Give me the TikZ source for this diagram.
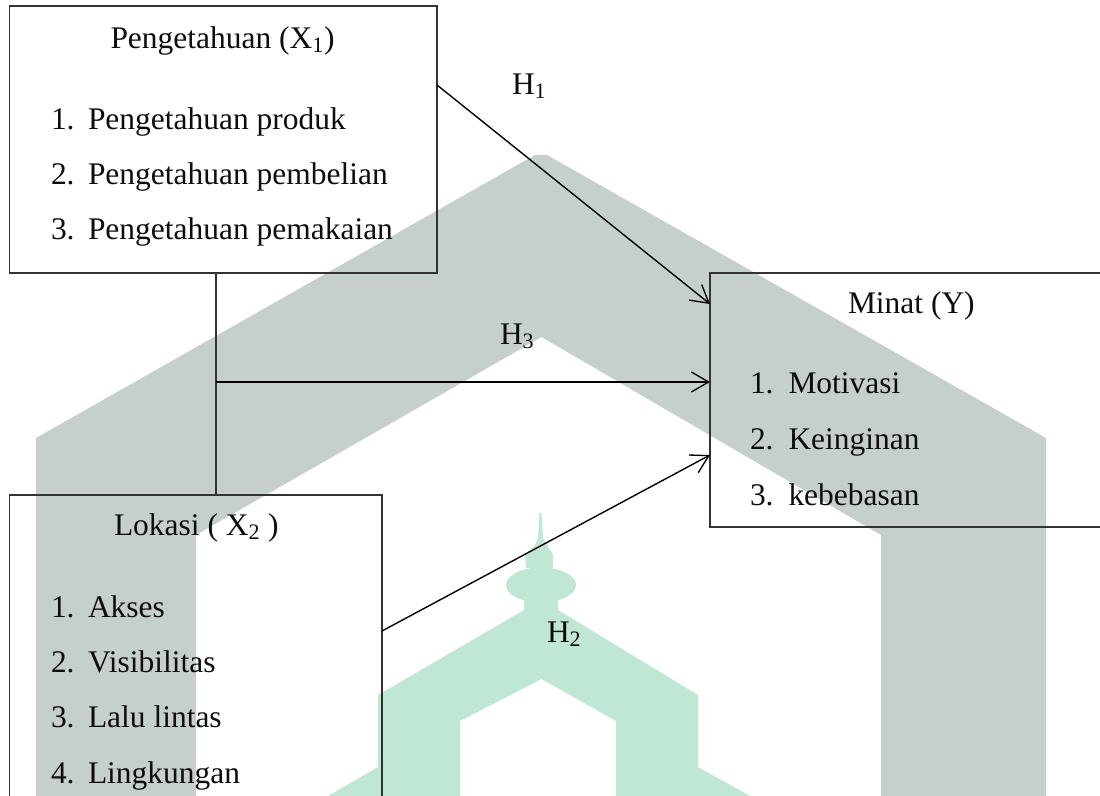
\documentclass[tikz,border=0pt]{standalone}
\usepackage{fontspec}
\setmainfont{Liberation Serif}
\usetikzlibrary{arrows.meta}
\definecolor{wmgrey}{HTML}{C5CFCB}
\definecolor{wmgreen}{HTML}{C0E6D4}
\newcommand{\pxu}{0.75pt}
\tikzset{
  txt/.style={anchor=base west,inner sep=0pt,outer sep=0pt,font=\fontsize{23.6}{28}\selectfont,text=black!95},
  boxed/.style={draw=black!80,line width=0.8pt,rectangle,anchor=north west,inner sep=0pt,outer sep=0pt},
  conn/.style={draw=black,line width=1.05pt},
  arr/.style={conn,-{Straight Barb[length=13pt,width=15pt,line width=1pt]}},
  vline/.style={draw=black!80,line width=0.8pt}
}
\begin{document}
\begin{tikzpicture}[x=0.75pt,y=-0.75pt]
\useasboundingbox (0,0) rectangle (1100,796);
% watermark
\fill[wmgrey] (36,438) -- (535,155) -- (547,155) -- (1046,438) -- (1046,796) -- (881,796) -- (881,535)
  -- (541.5,337) -- (196,535) -- (196,796) -- (36,796) -- cycle;
\fill[wmgreen] (539.5,513) -- (541.5,513) -- (543,538) -- (547,545) -- (553,555) -- (553,568) -- (526,568) -- (525,555) -- (535,545) -- (538,538) -- cycle;
\fill[wmgreen] (541,585) ellipse [x radius=35,y radius=17.5];
\fill[wmgreen] (524,598) -- (558,598) -- (558,610) -- (698,695) -- (698,767) -- (750,796) -- (616,796) -- (616,721)
  -- (541.5,679) -- (460,721) -- (460,796) -- (328,796) -- (378,767) -- (378,695) -- (524,610) -- cycle;
% boxes
\node[boxed,minimum width=427.5*\pxu,minimum height=267*\pxu] (pengetahuan) at (9.5,6) {};
\node[boxed,minimum width=372.5*\pxu,minimum height=320*\pxu] (lokasi) at (9.5,495) {};
\node[boxed,minimum width=410*\pxu,minimum height=254*\pxu] (minat) at (710,273) {};
% connectors
\coordinate (junction) at (216,382);
\draw[vline] (pengetahuan.south -| junction) -- (lokasi.north -| junction);
\draw[arr] (junction) -- (junction -| minat.west);
\draw[arr] (pengetahuan.east |- 0,85) -- (minat.west |- 0,304);
\draw[arr] (lokasi.east |- 0,631) -- (minat.west |- 0,455);
% texts
\node[txt] (t1) at (110.5,48) {Pengetahuan (X\textsubscript{1})};
\node[txt] (t1a) at (51,129) {1.};
\node[txt] (t1b) at (88,129) {Pengetahuan produk};
\node[txt] (t2a) at (51,184) {2.};
\node[txt] (t2b) at (88,184) {Pengetahuan pembelian};
\node[txt] (t3a) at (51,239) {3.};
\node[txt] (t3b) at (88,239) {Pengetahuan pemakaian};
\node[txt] (t4) at (848,313) {Minat (Y)};
\node[txt] (t4a) at (750,393) {1.};
\node[txt] (t4b) at (788.5,393) {Motivasi};
\node[txt] (t5a) at (750,449) {2.};
\node[txt] (t5b) at (788.5,449) {Keinginan};
\node[txt] (t6a) at (750,505) {3.};
\node[txt] (t6b) at (788.5,505) {kebebasan};
\node[txt] (t7) at (114,535) {Lokasi ( X\textsubscript{2} )};
\node[txt] (t7a) at (51,617) {1.};
\node[txt] (t7b) at (88,617) {Akses};
\node[txt] (t8a) at (51,672) {2.};
\node[txt] (t8b) at (88,672) {Visibilitas};
\node[txt] (t9a) at (51,727) {3.};
\node[txt] (t9b) at (88,727) {Lalu lintas};
\node[txt] (t10a) at (51,783) {4.};
\node[txt] (t10b) at (88,783) {Lingkungan};
\node[txt] (h1) at (512,94) {H\textsubscript{1}};
\node[txt] (h3) at (500,344) {H\textsubscript{3}};
\node[txt] (h2) at (547,642) {H\textsubscript{2}};
\end{tikzpicture}
\end{document}
